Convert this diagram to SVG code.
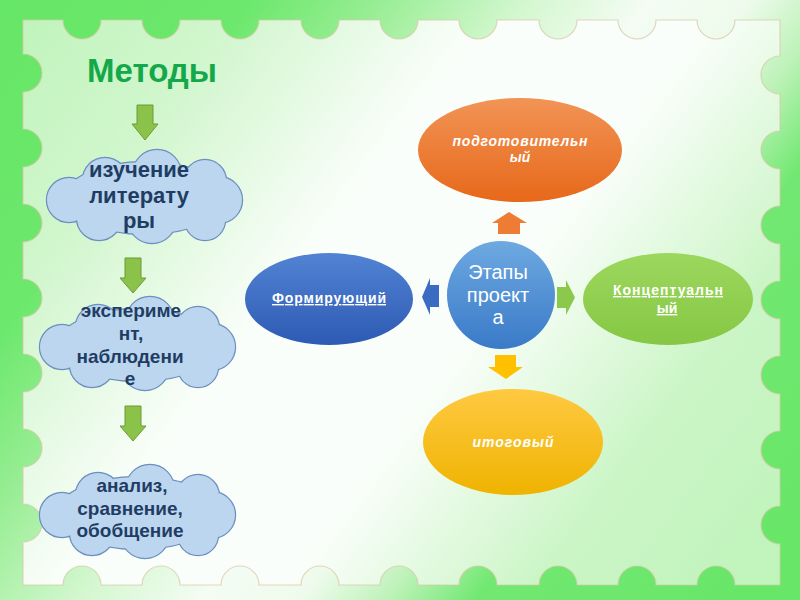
<svg xmlns="http://www.w3.org/2000/svg" xmlns:xlink="http://www.w3.org/1999/xlink" width="800" height="600" viewBox="0 0 800 600">
<style>
text{font-family:"Liberation Sans",Arial,sans-serif;text-anchor:middle}
.title{font-size:33px;font-weight:bold;fill:#14a84a}
.ct{font-weight:bold;fill:#1f3d63}
.cloudStroke{fill:#6d8fbf;stroke:#6d8fbf;stroke-width:2.4}
.cloudFill{fill:#bcd6ef}
.wt{fill:#ffffff;font-weight:bold}
.ul{text-decoration:underline}
.it{font-style:italic}
.garrow{fill:#8bc34a;stroke:#6e9a35;stroke-width:1}
</style>
<defs>
<linearGradient id="outerG" gradientUnits="userSpaceOnUse" x1="0" y1="0" x2="800" y2="600">
<stop offset="0" stop-color="#66e666"/>
<stop offset="0.2" stop-color="#6ce86c"/>
<stop offset="0.3" stop-color="#96ed92"/>
<stop offset="0.42" stop-color="#d2f7ce"/>
<stop offset="0.52" stop-color="#f4fcf3"/>
<stop offset="0.6" stop-color="#eefbec"/>
<stop offset="0.67" stop-color="#bdf2b8"/>
<stop offset="0.74" stop-color="#72e872"/>
<stop offset="1" stop-color="#66e666"/>
</linearGradient>
<linearGradient id="panelG" gradientUnits="userSpaceOnUse" x1="0" y1="0" x2="800" y2="600">
<stop offset="0" stop-color="#bdf4b9"/>
<stop offset="0.2" stop-color="#d2f6ce"/>
<stop offset="0.4" stop-color="#fafefa"/>
<stop offset="0.58" stop-color="#fafefa"/>
<stop offset="0.78" stop-color="#cbf5c6"/>
<stop offset="1" stop-color="#bdf4b9"/>
</linearGradient>
<linearGradient id="orG" x1="0" y1="0" x2="0" y2="1"><stop offset="0" stop-color="#f29456"/><stop offset="1" stop-color="#e7681a"/></linearGradient>
<linearGradient id="blG" x1="0" y1="0" x2="0" y2="1"><stop offset="0" stop-color="#5283d3"/><stop offset="1" stop-color="#2d5ab3"/></linearGradient>
<linearGradient id="grG" x1="0" y1="0" x2="0" y2="1"><stop offset="0" stop-color="#9cd75e"/><stop offset="1" stop-color="#86c744"/></linearGradient>
<linearGradient id="yeG" x1="0" y1="0" x2="0" y2="1"><stop offset="0" stop-color="#ffc942"/><stop offset="1" stop-color="#efb300"/></linearGradient>
<linearGradient id="ciG" x1="0" y1="0" x2="0" y2="1"><stop offset="0" stop-color="#6ea9e1"/><stop offset="1" stop-color="#3a7ac8"/></linearGradient>
<g id="cloudShape">
<ellipse cx="98" cy="48" rx="80" ry="36"/>
<circle cx="22" cy="50" r="22"/>
<circle cx="58" cy="30" r="22"/>
<circle cx="110" cy="24" r="24"/>
<circle cx="158" cy="31" r="21"/>
<circle cx="172" cy="50" r="23"/>
<circle cx="158" cy="70" r="20"/>
<circle cx="105" cy="69" r="24"/>
<circle cx="52" cy="68" r="22"/>
</g>
</defs>

<g id="background">
<rect x="0" y="0" width="800" height="600" fill="url(#outerG)"/>
<path fill="url(#panelG)" stroke="#d9c6a6" stroke-width="1.2" stroke-opacity="0.7" d="M23,20 L63,20 A19,19 0 0 0 101,20 L142,20 A19,19 0 0 0 180,20 L221,20 A19,19 0 0 0 259,20 L301,20 A19,19 0 0 0 339,20 L380,20 A19,19 0 0 0 418,20 L459,20 A19,19 0 0 0 497,20 L539,20 A19,19 0 0 0 577,20 L618,20 A19,19 0 0 0 656,20 L697,20 A19,19 0 0 0 735,20 L780,20 L780,56 A19,19 0 0 0 780,94 L780,131 A19,19 0 0 0 780,169 L780,206 A19,19 0 0 0 780,244 L780,281 A19,19 0 0 0 780,319 L780,356 A19,19 0 0 0 780,394 L780,431 A19,19 0 0 0 780,469 L780,506 A19,19 0 0 0 780,544 L780,585 L735,585 A19,19 0 0 0 697,585 L656,585 A19,19 0 0 0 618,585 L577,585 A19,19 0 0 0 539,585 L497,585 A19,19 0 0 0 459,585 L418,585 A19,19 0 0 0 380,585 L339,585 A19,19 0 0 0 301,585 L259,585 A19,19 0 0 0 221,585 L180,585 A19,19 0 0 0 142,585 L101,585 A19,19 0 0 0 63,585 L23,585 L23,542 A19,19 0 0 0 23,504 L23,467 A19,19 0 0 0 23,429 L23,392 A19,19 0 0 0 23,354 L23,317 A19,19 0 0 0 23,279 L23,242 A19,19 0 0 0 23,204 L23,167 A19,19 0 0 0 23,129 L23,92 A19,19 0 0 0 23,54 Z"/>
</g>

<g id="title"><text class="title" x="152" y="82">Методы</text></g>

<g id="connectors">
<polygon class="garrow" points="137,105 153,105 153,124 158,124 145,140 132,124 137,124"/>
<polygon class="garrow" points="125,258 141,258 141,278 146,278 133,293 120,278 125,278"/>
<polygon class="garrow" points="125,406 141,406 141,426 146,426 133,441 120,426 125,426"/>
<polygon fill="#ee7c34" points="498,234 520,234 520,223 527,223 509,212 492,223 498,223"/>
<polygon fill="#8cc84c" points="557,287 566,287 566,280 575,297.5 566,315 566,308 557,308"/>
<polygon fill="#3b6cc4" points="439,285 430,285 430,278 422,297 430,315 430,307 439,307"/>
<polygon fill="#ffc000" points="495,355 516,355 516,367 523,367 506,379 488,367 495,367"/>
</g>

<g id="cloud1">
<use xlink:href="#cloudShape" href="#cloudShape" class="cloudStroke" transform="translate(47,150)"/>
<use xlink:href="#cloudShape" href="#cloudShape" class="cloudFill" transform="translate(47,150)"/>
<text class="ct" font-size="22" x="139" y="177">изучение</text>
<text class="ct" font-size="22" x="139" y="203">литерату</text>
<text class="ct" font-size="22" x="139" y="228">ры</text>
</g>

<g id="cloud2">
<use xlink:href="#cloudShape" href="#cloudShape" class="cloudStroke" transform="translate(40,297)"/>
<use xlink:href="#cloudShape" href="#cloudShape" class="cloudFill" transform="translate(40,297)"/>
<text class="ct" font-size="19" x="131" y="317">экспериме</text>
<text class="ct" font-size="19" x="131" y="340">нт,</text>
<text class="ct" font-size="19" x="130" y="363">наблюдени</text>
<text class="ct" font-size="19" x="130" y="385">е</text>
</g>

<g id="cloud3">
<use xlink:href="#cloudShape" href="#cloudShape" class="cloudStroke" transform="translate(40,465)"/>
<use xlink:href="#cloudShape" href="#cloudShape" class="cloudFill" transform="translate(40,465)"/>
<text class="ct" font-size="19" x="132" y="492">анализ,</text>
<text class="ct" font-size="19" x="130" y="515">сравнение,</text>
<text class="ct" font-size="19" x="130" y="537">обобщение</text>
</g>

<g id="stage-prep">
<ellipse cx="520" cy="150" rx="102" ry="52" fill="url(#orG)"/>
<text class="wt it" font-size="14" x="520" y="146" textLength="135">подготовительн</text>
<text class="wt it" font-size="14" x="520" y="162">ый</text>
</g>

<g id="stage-form">
<ellipse cx="329" cy="299" rx="84" ry="46" fill="url(#blG)"/>
<text class="wt ul" font-size="14" x="329" y="303" textLength="114">Формирующий</text>
</g>

<g id="stage-concept">
<ellipse cx="668" cy="299" rx="85" ry="46" fill="url(#grG)"/>
<text class="wt ul" font-size="14" x="668" y="295" textLength="110">Концептуальн</text>
<text class="wt ul" font-size="14" x="667" y="313">ый</text>
</g>

<g id="stage-final">
<ellipse cx="513" cy="442" rx="90" ry="53" fill="url(#yeG)"/>
<text class="wt it" font-size="14" x="513" y="447" textLength="81">итоговый</text>
</g>

<g id="center">
<circle cx="501" cy="295" r="54" fill="url(#ciG)"/>
<text font-size="20" fill="#ffffff" x="498" y="279">Этапы</text>
<text font-size="20" fill="#ffffff" x="498" y="302">проект</text>
<text font-size="20" fill="#ffffff" x="498" y="324">а</text>
</g>
</svg>
